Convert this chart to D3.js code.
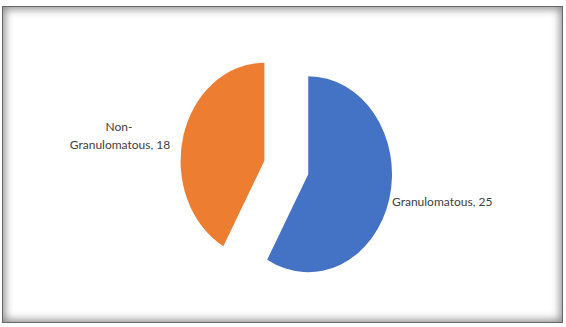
<!DOCTYPE html>
<html><head><meta charset="utf-8">
<script src="https://cdn.jsdelivr.net/npm/d3@7"></script>
<style>
html,body{margin:0;padding:0;background:#fff;}
#frame{position:absolute;left:2px;top:6px;width:561px;height:317px;box-sizing:border-box;border:1px solid #666;box-shadow:inset 0 0 8px 2px #8a8a8a;}
svg{position:absolute;left:0;top:0;}
</style></head><body>
<div id="frame"></div>
<svg id="c" width="566" height="327"></svg>
<script>
const categories = ["Granulomatous", "Non-Granulomatous"];
const values = [25, 18];
const colors = ["#4472C4", "#ED7D31"];

const svg = d3.select("#c");
const R = 98, explode = 26.5, sx = 0.855;
const cx = 286.3, cy = 167.5;
const pie = d3.pie().sort(null)(values);
const arc = d3.arc().innerRadius(0).outerRadius(R);
const g = svg.append("g").attr("transform", `translate(${cx},${cy}) scale(${sx},1)`);
g.selectAll("path").data(pie).join("path")
  .attr("d", arc)
  .attr("fill", (d,i) => colors[i])
  .attr("transform", d => {
    const a = (d.startAngle + d.endAngle) / 2;
    return `translate(${explode*Math.sin(a)},${-explode*Math.cos(a)})`;
  });

const font = "Lato, 'Open Sans', sans-serif";
svg.append("text").attr("x", 392).attr("y", 206).attr("font-family", font).attr("font-size", 12)
  .attr("fill", "#404040").text(categories[0] + ", " + values[0]);
const t = svg.append("text").attr("text-anchor", "middle").attr("font-family", font).attr("font-size", 12).attr("fill", "#404040");
t.append("tspan").attr("x", 119).attr("y", 131).text("Non-");
t.append("tspan").attr("x", 120).attr("y", 149).text("Granulomatous, " + values[1]);
</script>
</body></html>
